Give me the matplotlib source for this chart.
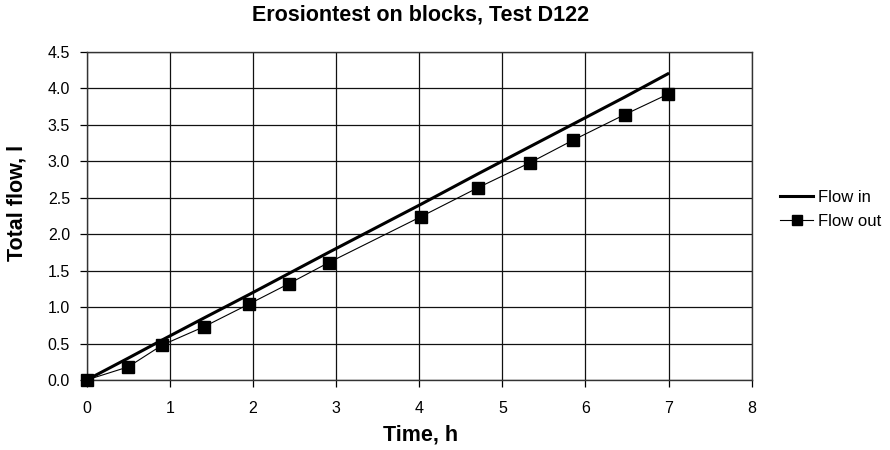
import matplotlib
matplotlib.use("Agg")
import matplotlib.pyplot as plt

plt.rcParams['font.family'] = ['Liberation Sans', 'DejaVu Sans']

# time, h
time_h = [0, 0.5, 0.91, 1.41, 1.95, 2.43, 2.91, 4.02, 4.71, 5.33, 5.85, 6.47, 6.99]
# total flow, l
flow_in = [0, 0.3, 0.55, 0.85, 1.17, 1.46, 1.75, 2.41, 2.83, 3.2, 3.51, 3.88, 4.2]
flow_out = [0, 0.18, 0.48, 0.73, 1.04, 1.32, 1.61, 2.24, 2.64, 2.98, 3.29, 3.64, 3.92]

fig = plt.figure(figsize=(8.9, 4.5), dpi=100)
ax = fig.add_axes([0.0974, 0.1556, 0.7472, 0.7288])

l1, = ax.plot(time_h, flow_in, color='black', lw=2.2, label='Flow in')
l2, = ax.plot(time_h, flow_out, color='black', lw=0.8, marker='s', ms=8.4,
              label='Flow out', clip_on=False, zorder=5)

ax.set_xlim(0, 8)
ax.set_ylim(0, 4.5)
ax.set_xticks(range(0, 9))
ax.set_yticks([i * 0.5 for i in range(10)])
ax.set_yticklabels(['%.1f' % (i * 0.5) for i in range(10)])
ax.grid(True, color='#111111', lw=0.9)
ax.set_axisbelow(True)
ax.tick_params(direction='out', length=5, width=0.9, labelsize=11.5)
ax.tick_params(axis='x', pad=10)
ax.tick_params(axis='y', pad=7)
for s in ax.spines.values():
    s.set_color('#333333')
    s.set_linewidth(1)

fig.text(0.472, 1 - 15 / 450, 'Erosiontest on blocks, Test D122', fontsize=15.5,
         fontweight='bold', ha='center', va='center')
fig.text(0.472, 1 - 435 / 450, 'Time, h', fontsize=15.5, fontweight='bold',
         ha='center', va='center')
fig.text(17 / 890, 1 - 203 / 450, 'Total flow, l', fontsize=15.5,
         fontweight='bold', ha='center', va='center', rotation=90)

fig.legend(handles=[l1, l2], loc='center left',
           bbox_to_anchor=(780 / 890, 1 - 209.5 / 450),
           frameon=False, fontsize=12, handlelength=2.0, handletextpad=0.3,
           labelspacing=0.55, borderaxespad=0, borderpad=0, markerscale=0.85)

fig.savefig('out.png', dpi=100)
